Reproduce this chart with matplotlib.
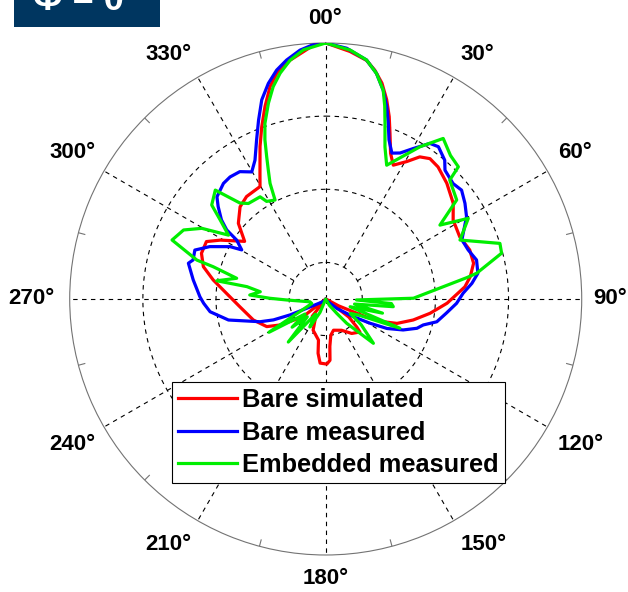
import numpy as np
import matplotlib.pyplot as plt
from matplotlib.patches import Rectangle

# normalised radiation pattern, phi = 0 cut
# angle in degrees (0 = boresight, clockwise), gain in dB
ang_sim = [0, 5.6, 9.7, 12.1, 14.6, 17.0, 19.2, 21.2, 24.0, 26.8,
           30.5, 33.5, 36.6, 40.4, 46.3, 53.1, 58.2, 65.1, 71.2, 76.4,
           81.2, 85.0, 92.0, 97.8, 103.5, 108.9, 111.5, 114, 118, 122,
           128, 132, 134, 143, 153, 166, 172, 175, 176, 179,
           185, 188, 190, 202, 207, 218, 224, 232, 240.4, 244.9,
           253.8, 264.9, 273.3, 279.6, 284.8, 290.2, 295.7, 299.2, 305.4, 310.9,
           317.1, 322.3, 329.7, 332.4, 336.7, 339.6, 342.5, 345.3, 347.8, 351.5,
           358, 360]
db_sim = [0, -1.0, -1.9, -3.0, -4.5, -6.5, -8.6, -10.7, -13.2, -14.5,
          -13.2, -11.7, -11.1, -11.3, -12.1, -13.2, -14.5, -14.8, -14.2, -14.2,
          -15.0, -15.9, -18.4, -20.6, -22.7, -24.7, -26.5, -29, -33, -35,
          -31, -29.3, -28.5, -29.1, -30.2, -30.6, -30, -28.5, -26.6, -26.1,
          -26.2, -27.5, -29.3, -30.4, -31.8, -32, -35, -31, -27.8, -26.1,
          -24.7, -23.2, -21.4, -19.4, -17.7, -16.9, -16.9, -18.5, -21.4, -19.2,
          -17.8, -17.3, -17.2, -15.6, -12.3, -9.9, -7.4, -5.0, -3.4, -2.0,
          0, 0]

ang_meas = [0, 4.8, 9.7, 12.7, 15.4, 17.6, 19.6, 21.7, 24.4, 27.0,
            30.2, 33.8, 36.5, 40.6, 42.8, 47.8, 51.3, 55.5, 59.7, 66.5,
            71.0, 75.5, 80.4, 83.9, 87.6, 91.9, 96.7, 101.6, 104.9, 107.8,
            111.8, 115.7, 118.7, 122.7, 130.2, 140, 160, 180, 200, 225,
            243.9, 245.9, 248.2, 250.9, 257.8, 263.7, 268.0, 271.0, 278.2, 284.6,
            286.4, 290.5, 294.3, 298.7, 300.3, 303.5, 304.9, 307.2, 310.7, 313.2,
            318.5, 321.9, 326.0, 329.8, 333.0, 336.5, 339.4, 342.2, 345.1, 347.9,
            350.7, 354.1, 358, 360]
db_meas = [0, -0.6, -1.85, -3.4, -5.4, -7.4, -9.5, -11.6, -13.1, -12.6,
           -11.2, -9.4, -9.1, -10.0, -11.0, -11.5, -11.2, -11.9, -12.7, -14.7,
           -14.4, -13.7, -13.9, -14.9, -16.2, -17.1, -18.4, -19.5, -21.2, -21.9,
           -23.6, -25.7, -28.1, -30.5, -33.0, -34.5, -34.8, -35, -34.8, -34.5,
           -32.1, -29.7, -27.3, -25.5, -21.4, -19.1, -18.3, -17.8, -16.7, -15.6,
           -16.1, -15.9, -17.6, -20.1, -21.7, -20.4, -18.5, -17.1, -15.6, -14.6,
           -13.9, -13.8, -14.0, -14.9, -13.7, -11.3, -8.9, -6.4, -4.5, -3.0,
           -1.9, -0.8, 0, 0]

ang_emb = [0, 5.6, 9.7, 12.7, 15.4, 17.0, 18.65, 21.3, 24.5, 31.8,
           36.2, 41.0, 45.1, 46.2, 52.9, 57.1, 60.5, 66.3, 72.3, 75.4,
           80.3, 81.4, 84.0, 89.5, 91.8, 94.0, 96.5, 100, 104, 107.6,
           111.5, 116, 120.5, 126, 132.9, 139.2, 142.4, 150, 165, 195,
           203, 209.5, 214, 221, 226, 230, 234, 239.6, 245, 252,
           260, 268.5, 270.7, 273, 276.3, 278.9, 279.5, 283.1, 286.0, 286.8,
           291.0, 295.9, 299.7, 303.3, 306.8, 309.5, 314.6, 318.2, 321.0, 327.3,
           328.8, 332.9, 334.3, 336.0, 337.5, 339.1, 340.9, 343.7, 346.1, 348.6,
           351.5, 354.9, 360]
db_emb = [0, -0.8, -1.85, -3.4, -5.4, -7.4, -9.65, -12.7, -14.9, -10.5,
          -7.8, -9.0, -9.4, -11.5, -12.55, -16.4, -12.6, -14.95, -10.0, -10.15,
          -14.05, -15.5, -18.8, -23.0, -30.8, -26, -25.7, -31, -27, -31.5,
          -24.1, -30, -31.1, -29, -26.1, -30.6, -32.5, -34, -35, -35,
          -33, -30.6, -32.5, -27.2, -31.5, -29, -31.5, -26.0, -31.5, -33,
          -32.8, -29.7, -27.4, -24.6, -26.0, -24.1, -19.9, -22.5, -19.0, -16.6,
          -12.5, -13.4, -15.5, -19.1, -17.0, -14.8, -13.8, -17.4, -18.2, -18.4,
          -19.4, -19.8, -17.45, -15.7, -13.9, -11.7, -9.6, -7.1, -5.1, -3.5,
          -2.0, -0.8, 0]

series = [
    ("Bare simulated", ang_sim, db_sim, "#ff0000"),
    ("Bare measured", ang_meas, db_meas, "#0000ff"),
    ("Embedded measured", ang_emb, db_emb, "#00ee00"),
]

rings = [-30, -20, -10]
label_angles = list(range(0, 360, 30))
label_text = ["00°"] + [f"{a}°" for a in label_angles[1:]]
# label centres in pixels (from top-left), same order as label_angles
label_px = [(325, 18), (477, 55), (575, 153), (610, 299), (581, 445),
            (484, 545), (326, 579), (168, 545), (72, 445), (31, 299),
            (72, 153), (168, 55)]

W, H = 628, 592
r_min, r_max = -35, 0
font = "Liberation Sans"

fig = plt.figure(figsize=(W / 100, H / 100), dpi=100)
ax = fig.add_axes([0.111, 0.0625, 0.8153, 0.8649], projection="polar")
ax.set_theta_zero_location("N")
ax.set_theta_direction(-1)
ax.set_ylim(r_min, r_max)
ax.grid(False)
ax.set_xticks([])
ax.set_yticks([])
ax.spines["polar"].set_color("0.45")
ax.spines["polar"].set_linewidth(0.8)

# dashed rings and spokes
full = np.linspace(0, 2 * np.pi, 721)
for r in rings:
    ax.plot(full, np.full_like(full, r), color="k", lw=0.8,
            dashes=(4, 4), zorder=1)
for a in label_angles:
    t = np.deg2rad(a)
    start = r_min if a % 90 == 0 else rings[0]
    ax.plot([t, t], [start, r_max], color="k", lw=0.8, dashes=(4, 4), zorder=1)
# small ticks on the outer circle
for a in range(15, 360, 30):
    t = np.deg2rad(a)
    ax.plot([t, t], [-0.9, 0], color="0.45", lw=0.8, zorder=1)

for name, ang, db, col in series:
    ax.plot(np.deg2rad(ang), db, color=col, lw=2.3, label=name, zorder=3)

# angle labels
for lab, (px, py) in zip(label_text, label_px):
    fig.text(px / W, 1 - py / H, lab, ha="center", va="center",
             fontsize=16, fontweight="bold", family=font)

leg = ax.legend(loc="upper left", bbox_to_anchor=(172 / W, 1 - 382 / H),
                bbox_transform=fig.transFigure, borderaxespad=0,
                prop=dict(family=font, weight="bold", size=18.3),
                fancybox=False, edgecolor="k", framealpha=1,
                borderpad=0.25, labelspacing=0.33, handlelength=2.3,
                handletextpad=0.22)
leg.get_frame().set_linewidth(0.8)
leg.set_zorder(5)

# heading tag in the corner
fig.patches.append(Rectangle((14 / W, 1 - 26.5 / H), 146 / W, 26.5 / H,
                             transform=fig.transFigure, facecolor="#003660",
                             edgecolor="none"))
fig.text(33 / W, 1 - 10 / H, "Φ = 0", color="white", fontsize=26,
         fontweight="bold", family=font, ha="left", va="baseline")

fig.savefig("out.png", dpi=100, facecolor="white")
